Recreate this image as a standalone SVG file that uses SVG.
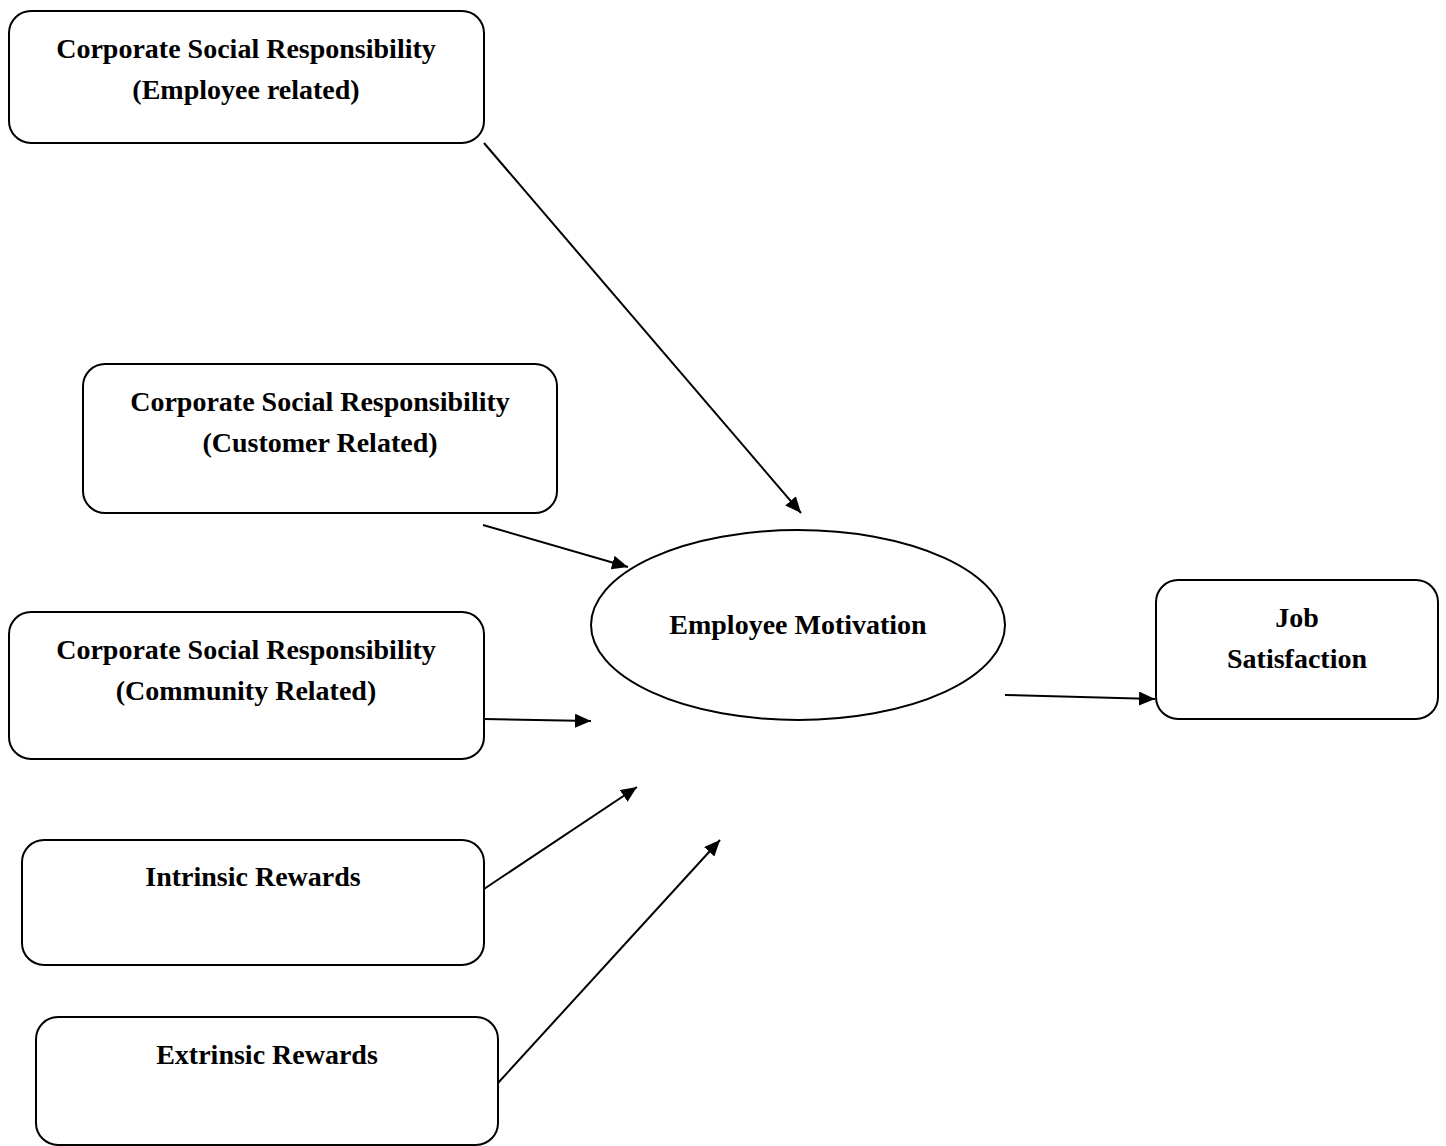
<svg xmlns="http://www.w3.org/2000/svg" width="1446" height="1146" viewBox="0 0 1446 1146">
<style>
.box{fill:#fff;stroke:#000;stroke-width:2}
.t{font-family:"Liberation Serif","Times New Roman",serif;font-weight:bold;font-size:28px;text-anchor:middle;fill:#000}
.c{stroke:#000;stroke-width:2;fill:none;marker-end:url(#ah)}
</style>
<defs>
<marker id="ah" viewBox="0 0 16 14" refX="16" refY="7" markerWidth="16" markerHeight="14" markerUnits="userSpaceOnUse" orient="auto">
<path d="M0,0 L16,7 L0,14 z" fill="#000"/>
</marker>
</defs>
<rect width="1446" height="1146" fill="#fff"/>
<g id="n-employee">
<rect class="box" x="9" y="11" width="475" height="132" rx="22"/>
<text class="t" x="246" y="58">Corporate Social Responsibility</text>
<text class="t" x="246" y="99">(Employee related)</text>
</g>
<g id="n-customer">
<rect class="box" x="83" y="364" width="474" height="149" rx="22"/>
<text class="t" x="320" y="411">Corporate Social Responsibility</text>
<text class="t" x="320" y="452">(Customer Related)</text>
</g>
<g id="n-community">
<rect class="box" x="9" y="612" width="475" height="147" rx="22"/>
<text class="t" x="246" y="659">Corporate Social Responsibility</text>
<text class="t" x="246" y="700">(Community Related)</text>
</g>
<g id="n-intrinsic">
<rect class="box" x="22" y="840" width="462" height="125" rx="22"/>
<text class="t" x="253" y="886">Intrinsic Rewards</text>
</g>
<g id="n-extrinsic">
<rect class="box" x="36" y="1017" width="462" height="128" rx="22"/>
<text class="t" x="267" y="1064">Extrinsic Rewards</text>
</g>
<g id="n-motivation">
<ellipse class="box" cx="798" cy="625" rx="207" ry="95"/>
<text class="t" x="798" y="634">Employee Motivation</text>
</g>
<g id="n-job">
<rect class="box" x="1156" y="580" width="282" height="139" rx="22"/>
<text class="t" x="1297" y="627">Job</text>
<text class="t" x="1297" y="668">Satisfaction</text>
</g>
<g id="connectors">
<line class="c" x1="484" y1="143" x2="801" y2="513"/>
<line class="c" x1="483" y1="525" x2="628" y2="567"/>
<line class="c" x1="484" y1="719" x2="591" y2="721"/>
<line class="c" x1="484" y1="889" x2="637" y2="787"/>
<line class="c" x1="498" y1="1083" x2="720" y2="840"/>
<line class="c" x1="1005" y1="695" x2="1155" y2="699"/>
</g>
</svg>
